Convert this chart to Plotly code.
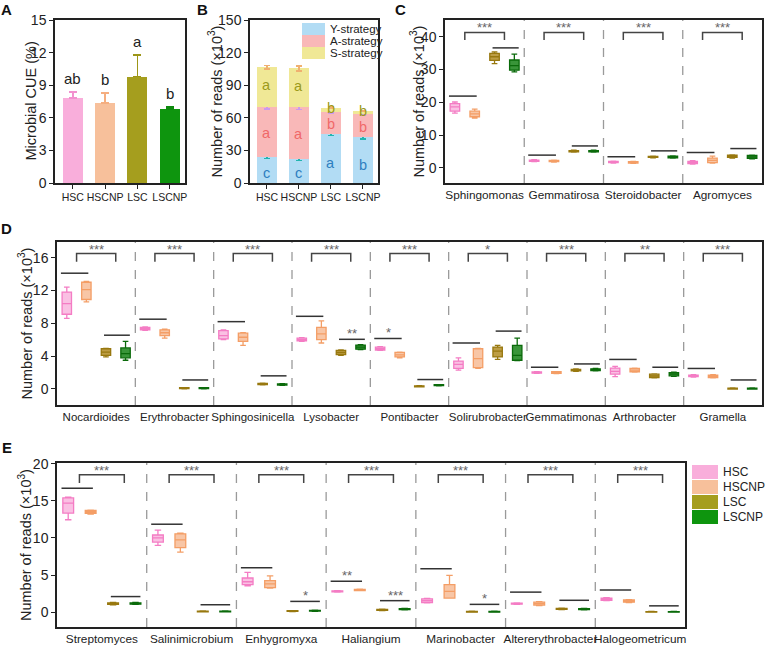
import plotly.graph_objects as go

W, H = 767, 646
FONT = "Arial, 'Liberation Sans', sans-serif"

# ---------------- data ----------------
groups = ["HSC", "HSCNP", "LSC", "LSCNP"]

# Panel A
cue_mean = [7.8, 7.35, 9.8, 6.8]
cue_err = [0.55, 0.95, 2.0, 0.2]
cue_letters = ["ab", "b", "a", "b"]

# Panel B
strategies = ["Y-strategy", "A-strategy", "S-strategy"]
y_strat = [24.0, 22.0, 45.0, 42.5]
a_strat = [46.3, 47.7, 20.0, 20.8]
s_strat = [36.2, 35.8, 4.4, 3.1]
y_strat_err = [1.6, 1.3, 1.5, 2.2]
a_strat_err = [2.0, 2.2, 0.5, 0.5]
s_strat_err = [1.8, 2.4, 0.5, 0.5]
y_letters = ["c", "c", "a", "b"]
a_letters = ["a", "a", "b", "b"]
s_letters = ["a", "a", "b", "b"]

# Panel C  (each entry: [lower whisker, q1, median, q3, upper whisker])
c_genera = ["Sphingomonas", "Gemmatirosa", "Steroidobacter", "Agromyces"]
c_hsc = [[16.7, 17.3, 18.6, 19.6, 20.1], [1.9, 2.0, 2.2, 2.4, 2.5], [1.5, 1.6, 1.8, 2.0, 2.1], [1.2, 1.3, 1.6, 2.0, 2.2]]
c_hscnp = [[15.2, 15.6, 16.5, 17.3, 17.9], [1.8, 1.9, 2.1, 2.3, 2.4], [1.4, 1.5, 1.7, 1.9, 2.0], [1.5, 1.6, 2.3, 3.0, 3.6]]
c_lsc = [[31.8, 32.8, 33.9, 34.9, 35.4], [4.8, 4.9, 5.1, 5.3, 5.4], [3.1, 3.2, 3.35, 3.5, 3.6], [3.0, 3.2, 3.55, 3.9, 4.0]]
c_lscnp = [[29.3, 29.8, 31.2, 32.9, 34.7], [4.8, 4.9, 5.1, 5.3, 5.4], [3.0, 3.1, 3.35, 3.6, 3.7], [2.8, 2.9, 3.35, 3.8, 3.9]]
c_line_h = [21.9, 3.9, 3.4, 4.7]
c_line_l = [36.6, 6.7, 5.2, 5.9]
c_stars = ["***", "***", "***", "***"]
c_bracket = [39.0, 41.3]

# Panel D
d_genera = ["Nocardioides", "Erythrobacter", "Sphingosinicella", "Lysobacter", "Pontibacter",
            "Solirubrobacter", "Gemmatimonas", "Arthrobacter", "Gramella"]
d_hsc = [[8.6, 9.1, 10.4, 11.8, 12.4], [7.15, 7.2, 7.35, 7.5, 7.55], [6.0, 6.1, 6.5, 7.1, 7.2],
         [5.8, 5.85, 6.0, 6.2, 6.25], [4.7, 4.75, 4.9, 5.1, 5.15], [2.3, 2.5, 3.0, 3.4, 3.8],
         [1.9, 1.92, 2.0, 2.08, 2.1], [1.5, 1.8, 2.15, 2.55, 2.75], [1.45, 1.5, 1.6, 1.7, 1.75]]
d_hscnp = [[10.6, 10.9, 12.1, 13.0, 13.1], [6.2, 6.5, 6.85, 7.2, 7.3], [5.3, 5.8, 6.3, 6.8, 6.85],
           [5.6, 6.0, 6.7, 7.5, 8.3], [3.8, 3.9, 4.15, 4.45, 4.5], [2.5, 2.6, 3.7, 4.9, 4.95],
           [1.88, 1.9, 2.0, 2.1, 2.12], [2.05, 2.1, 2.3, 2.5, 2.55], [1.35, 1.4, 1.55, 1.7, 1.75]]
d_lsc = [[3.9, 4.1, 4.5, 4.9, 4.95], [0.03, 0.05, 0.1, 0.15, 0.17], [0.5, 0.52, 0.6, 0.68, 0.7],
         [4.1, 4.2, 4.45, 4.7, 4.75], [0.25, 0.27, 0.32, 0.38, 0.4], [3.6, 3.9, 4.6, 5.1, 5.3],
         [2.15, 2.2, 2.3, 2.4, 2.45], [1.35, 1.4, 1.6, 1.8, 1.85], [0.0, 0.0, 0.05, 0.1, 0.12]]
d_lscnp = [[3.5, 3.8, 4.3, 5.0, 5.8], [0.03, 0.05, 0.1, 0.15, 0.17], [0.45, 0.48, 0.55, 0.62, 0.65],
           [4.8, 4.85, 5.1, 5.35, 5.4], [0.38, 0.4, 0.46, 0.52, 0.54], [3.45, 3.5, 4.1, 5.3, 6.2],
           [2.2, 2.25, 2.35, 2.45, 2.5], [1.55, 1.6, 1.8, 2.0, 2.05], [0.0, 0.0, 0.05, 0.1, 0.12]]
d_line_h = [14.1, 8.5, 8.2, 8.85, 6.15, 5.6, 2.65, 3.6, 2.5]
d_line_l = [6.55, 1.1, 1.6, 6.05, 1.15, 7.05, 3.05, 2.65, 1.1]
d_stars = ["***", "***", "***", "***", "***", "*", "***", "**", "***"]
d_extra = [(3, "low", "**"), (4, "high", "*")]
d_bracket = [15.5, 16.5]

# Panel E
e_genera = ["Streptomyces", "Salinimicrobium", "Enhygromyxa", "Haliangium", "Marinobacter",
            "Altererythrobacter", "Halogeometricum"]
e_hsc = [[12.45, 13.35, 14.7, 15.4, 15.5], [9.0, 9.45, 10.0, 10.4, 11.05], [3.55, 3.7, 4.1, 4.6, 5.35],
         [2.7, 2.72, 2.8, 2.88, 2.9], [1.25, 1.3, 1.55, 1.8, 1.85], [1.05, 1.08, 1.15, 1.22, 1.25],
         [1.55, 1.6, 1.75, 1.9, 1.95]]
e_hscnp = [[13.2, 13.3, 13.5, 13.7, 13.75], [8.1, 8.7, 9.75, 10.55, 10.65], [3.25, 3.3, 3.8, 4.25, 4.9],
           [2.9, 2.92, 3.0, 3.08, 3.1], [1.9, 1.9, 2.8, 3.7, 4.95], [0.9, 0.95, 1.15, 1.35, 1.4],
           [1.3, 1.35, 1.5, 1.65, 1.7]]
e_lsc = [[1.0, 1.05, 1.15, 1.25, 1.3], [0.03, 0.05, 0.1, 0.15, 0.17], [0.08, 0.1, 0.15, 0.2, 0.22],
         [0.2, 0.23, 0.3, 0.37, 0.4], [0.0, 0.0, 0.05, 0.1, 0.12], [0.35, 0.38, 0.45, 0.52, 0.55],
         [0.0, 0.0, 0.03, 0.08, 0.1]]
e_lscnp = [[1.05, 1.08, 1.15, 1.25, 1.3], [0.03, 0.05, 0.1, 0.15, 0.17], [0.12, 0.15, 0.2, 0.25, 0.28],
           [0.3, 0.33, 0.4, 0.47, 0.5], [0.0, 0.0, 0.05, 0.1, 0.12], [0.3, 0.33, 0.4, 0.47, 0.5],
           [0.0, 0.0, 0.03, 0.08, 0.1]]
e_line_h = [16.7, 11.85, 6.0, 4.15, 5.85, 2.7, 3.0]
e_line_l = [2.1, 1.0, 1.45, 1.55, 1.05, 1.6, 0.85]
e_stars = ["***"] * 7
e_extra = [(2, "low", "*"), (3, "high", "**"), (3, "low", "***"), (4, "low", "*")]
e_bracket = [17.4, 18.5]

# ---------------- styles ----------------
bar_colors = ["#F9AEDB", "#F7C09B", "#A59E1E", "#0E950E"]
err_colors = ["#F291CF", "#F5AE80", "#9D9617", "#0E8A0E"]
box_lines = ["#F47CC4", "#F49E66", "#98780F", "#0A6A0A"]
box_fills = ["rgba(247,150,208,0.6)", "rgba(245,168,118,0.65)", "rgba(178,140,35,0.85)", "rgba(22,130,22,0.85)"]
strat_fill = ["#B2DCF4", "#F9B8B8", "#F0E896"]
strat_err = ["#22B5B0", "#CC99EE", "#F0B070"]
strat_text = ["#2E7FC0", "#F06868", "#9C9A1A"]
offsets = [-0.375, -0.125, 0.125, 0.375]


def dom_x(a, b):
    return [a / W, b / W]


def dom_y(top, bottom):
    return [1 - bottom / H, 1 - top / H]


fig = go.Figure()
shapes = []
annotations = []

# ---------------- Panel A ----------------
for i, g in enumerate(groups):
    fig.add_trace(go.Bar(
        x=[i], y=[cue_mean[i]], width=0.62, marker=dict(color=bar_colors[i], line=dict(width=0)),
        error_y=dict(type="data", symmetric=False, array=[cue_err[i]], arrayminus=[0],
                     color=err_colors[i], thickness=1.6, width=4),
        xaxis="x", yaxis="y", showlegend=False, hoverinfo="skip"))
    annotations.append(dict(x=i, y=cue_mean[i] + cue_err[i], xref="x", yref="y", text=cue_letters[i],
                            showarrow=False, yanchor="bottom", yshift=3,
                            font=dict(size=15, color="#222", family=FONT)))

# ---------------- Panel B ----------------
strat_vals = [y_strat, a_strat, s_strat]
strat_errs = [y_strat_err, a_strat_err, s_strat_err]
strat_letters = [y_letters, a_letters, s_letters]
for k, name in enumerate(strategies):
    fig.add_trace(go.Bar(
        x=list(range(4)), y=strat_vals[k], width=0.64, name=name,
        marker=dict(color=strat_fill[k], line=dict(width=0)),
        error_y=dict(type="data", array=strat_errs[k], color=strat_err[k], thickness=1.5, width=3),
        xaxis="x2", yaxis="y2", showlegend=False, hoverinfo="skip"))
for i in range(4):
    base = 0
    for k in range(3):
        v = strat_vals[k][i]
        frac = 0.4 if k == 0 else 0.5
        shift = 2 if k == 2 else (-1 if k == 1 else 0)
        annotations.append(dict(x=i, y=base + v * frac, xref="x2", yref="y2", text=strat_letters[k][i],
                                showarrow=False, yshift=shift,
                                font=dict(size=14.5, color=strat_text[k], family=FONT)))
        base += v

# B legend (layout swatches)
for k, name in enumerate(strategies):
    yc = 29 + k * 12
    shapes.append(dict(type="rect", xref="paper", yref="paper", x0=302 / W, x1=325 / W,
                       y0=1 - (yc + 6) / H, y1=1 - (yc - 6) / H, fillcolor=strat_fill[k],
                       line=dict(width=0), layer="above"))
    annotations.append(dict(x=328 / W, y=1 - yc / H, xref="paper", yref="paper", text=name,
                            showarrow=False, xanchor="left", yanchor="middle",
                            font=dict(size=11.5, color="#222", family=FONT)))


# ---------------- box panels ----------------
def box_panel(xa, ya, genera, data_groups, line_h, line_l, stars, bracket, extra):
    n = len(genera)
    for g in range(4):
        d = data_groups[g]
        fig.add_trace(go.Box(
            x=[i + offsets[g] for i in range(n)],
            lowerfence=[r[0] for r in d], q1=[r[1] for r in d], median=[r[2] for r in d],
            q3=[r[3] for r in d], upperfence=[r[4] for r in d],
            width=0.12, whiskerwidth=0.6, boxpoints=False,
            fillcolor=box_fills[g], line=dict(color=box_lines[g], width=1.3),
            xaxis=xa, yaxis=ya, showlegend=False, hoverinfo="skip", name=groups[g]))
    for i in range(n - 1):
        shapes.append(dict(type="line", xref=xa, yref=ya + " domain", x0=i + 0.5, x1=i + 0.5, y0=0, y1=1,
                           line=dict(color="#9A9A9A", width=1.3, dash="dash"), layer="below"))
    lo, hi = bracket
    for i in range(n):
        shapes.append(dict(type="line", xref=xa, yref=ya, x0=i - 0.45, x1=i - 0.1, y0=line_h[i], y1=line_h[i],
                           line=dict(color="#333", width=1.5)))
        shapes.append(dict(type="line", xref=xa, yref=ya, x0=i + 0.1, x1=i + 0.43, y0=line_l[i], y1=line_l[i],
                           line=dict(color="#333", width=1.5)))
        shapes.append(dict(type="path", xref=xa, yref=ya,
                           path=f"M {i-0.25},{lo} L {i-0.25},{hi} L {i+0.25},{hi} L {i+0.25},{lo}",
                           line=dict(color="#444", width=1.5)))
        annotations.append(dict(x=i, y=hi, xref=xa, yref=ya, text=stars[i], showarrow=False,
                                yanchor="bottom", yshift=-5, font=dict(size=13, color="#666", family=FONT)))
    for (i, which, txt) in extra:
        if which == "high":
            xc, yv = i - 0.27, line_h[i]
        else:
            xc, yv = i + 0.27, line_l[i]
        annotations.append(dict(x=xc, y=yv, xref=xa, yref=ya, text=txt, showarrow=False,
                                yanchor="bottom", yshift=-4, font=dict(size=13, color="#666", family=FONT)))


box_panel("x3", "y3", c_genera, [c_hsc, c_hscnp, c_lsc, c_lscnp], c_line_h, c_line_l, c_stars, c_bracket, [])
box_panel("x4", "y4", d_genera, [d_hsc, d_hscnp, d_lsc, d_lscnp], d_line_h, d_line_l, d_stars, d_bracket, d_extra)
box_panel("x5", "y5", e_genera, [e_hsc, e_hscnp, e_lsc, e_lscnp], e_line_h, e_line_l, e_stars, e_bracket, e_extra)

# E legend (layout swatches)
for g in range(4):
    yc = 472 + g * 15
    shapes.append(dict(type="rect", xref="paper", yref="paper", x0=692 / W, x1=718 / W,
                       y0=1 - (yc + 7) / H, y1=1 - (yc - 7) / H, fillcolor=bar_colors[g],
                       line=dict(width=0)))
    annotations.append(dict(x=721 / W, y=1 - yc / H, xref="paper", yref="paper", text=groups[g],
                            showarrow=False, xanchor="left", yanchor="middle",
                            font=dict(size=12, color="#222", family=FONT)))

# panel letters
for txt, px, py in [("A", 7, 10), ("B", 203, 10), ("C", 400, 9), ("D", 7, 228), ("E", 7, 447)]:
    annotations.append(dict(x=px / W, y=1 - py / H, xref="paper", yref="paper", text=f"<b>{txt}</b>",
                            showarrow=False, xanchor="center", yanchor="middle",
                            font=dict(size=15, color="#111", family=FONT)))

# y-axis titles (rotated text)
reads_title = "Number of reads (×10<sup>3</sup>)"
for txt, px, top, bottom in [("Microbial CUE (%)", 30, 20, 183), (reads_title, 215, 20, 183),
                             (reads_title, 417, 20, 183), (reads_title, 25, 242, 405),
                             (reads_title, 25, 463, 627)]:
    annotations.append(dict(x=px / W, y=1 - (top + bottom) / 2 / H, xref="paper", yref="paper", text=txt,
                            textangle=-90, showarrow=False, xanchor="center", yanchor="middle",
                            font=dict(size=14.5, color="#222", family=FONT)))

# ---------------- axes ----------------
axis_common = dict(showline=True, linecolor="#222", linewidth=1.5, mirror=True, showgrid=False,
                   zeroline=False, ticks="outside", tickcolor="#222", tickwidth=1.3, ticklen=4,
                   tickangle=0, automargin=False, tickfont=dict(size=14, color="#222", family=FONT))


def xcat(domain, rng, labels, size, ticks, anchor):
    d = dict(axis_common)
    d.update(domain=domain, range=rng, tickmode="array", tickvals=list(range(len(labels))),
             ticktext=labels, tickfont=dict(size=size, color="#222", family=FONT), anchor=anchor)
    if not ticks:
        d.update(ticks="")
    return d


def ynum(domain, rng, tickvals, anchor):
    d = dict(axis_common)
    d.update(domain=domain, range=rng, tickmode="array", tickvals=tickvals, anchor=anchor)
    return d


yA = dom_y(20, 183)
layout_axes = dict(
    xaxis=xcat(dom_x(55, 185), [-0.55, 3.47], groups, 10.5, True, "y"),
    yaxis=ynum(yA, [0, 15], [0, 3, 6, 9, 12, 15], "x"),
    xaxis2=xcat(dom_x(250, 378), [-0.53, 3.47], groups, 10.5, True, "y2"),
    yaxis2=ynum(yA, [0, 150], [0, 30, 60, 90, 120, 150], "x2"),
    xaxis3=xcat(dom_x(445, 762), [-0.5, 3.5], c_genera, 11.8, False, "y3"),
    yaxis3=ynum(yA, [-4.6, 45.1], [0, 10, 20, 30, 40], "x3"),
    xaxis4=xcat(dom_x(57, 762), [-0.5, 8.5], d_genera, 11.5, False, "y4"),
    yaxis4=ynum(dom_y(242, 405), [-1.95, 17.9], [0, 4, 8, 12, 16], "x4"),
    xaxis5=xcat(dom_x(57, 685), [-0.5, 6.5], e_genera, 11.8, False, "y5"),
    yaxis5=ynum(dom_y(463, 627), [-2.0, 20.1], [0, 5, 10, 15, 20], "x5"),
)

fig.update_layout(
    width=W, height=H, margin=dict(l=0, r=0, t=0, b=0),
    paper_bgcolor="white", plot_bgcolor="white",
    barmode="stack", boxmode="overlay", showlegend=False,
    font=dict(family=FONT, color="#222"),
    shapes=shapes, annotations=annotations,
    **layout_axes,
)

fig.write_html("out.html", config={"displayModeBar": False},
               post_script="document.body.style.margin='0';document.body.style.overflow='hidden';")
